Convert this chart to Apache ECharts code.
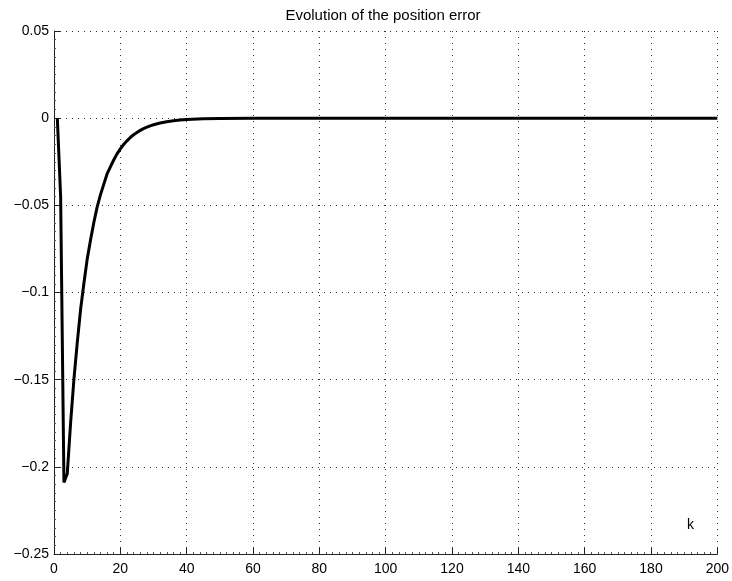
<!DOCTYPE html>
<html>
<head>
<meta charset="utf-8">
<title>Evolution of the position error</title>
<script src="https://cdn.jsdelivr.net/npm/echarts@6/dist/echarts.min.js"></script>
<style>
    html, body { margin: 0; padding: 0; background: #fff; }
    #main { width: 732px; height: 581px; }
</style>
</head>
<body>
<div id="main"></div>
<script>
    // 采样步 k 与位置误差
    const kSteps = [1, 2, 3, 4, 5, 6, 7, 8, 9, 10, 11, 12, 13, 14, 15, 16, 17, 18, 19, 20,
        21, 22, 23, 24, 25, 26, 27, 28, 29, 30, 32, 34, 36, 38, 40, 45, 50, 60, 80, 120, 160, 200];
    const errValues = [0, -0.045, -0.209, -0.204, -0.175, -0.150, -0.129, -0.110, -0.095, -0.081,
        -0.070, -0.060, -0.051, -0.044, -0.038, -0.032, -0.028, -0.024, -0.0205, -0.0176,
        -0.0151, -0.0130, -0.0111, -0.0095, -0.0082, -0.0070, -0.0060, -0.0052, -0.0044, -0.0038,
        -0.0028, -0.0021, -0.0015, -0.0011, -0.0008, -0.0004, -0.0002, -0.0001, 0, 0, 0, 0];

    const titleText = 'Evolution of the position error';
    const xName = 'k';

    const font = '"Liberation Sans", Arial, Helvetica, sans-serif';

    var myChart = echarts.init(document.getElementById('main'));

    let points = kSteps.map((k, i) => [k, errValues[i]]);

    let gridLine = {
        show: true,
        lineStyle: { color: '#333', width: 1, type: [1, 5] }
    };

    let option = {
        animation: false,
        backgroundColor: '#fff',
        title: {
            text: titleText,
            left: 378,
            top: 3,
            textAlign: 'center',
            textStyle: { fontFamily: font, fontSize: 15, fontWeight: 'normal', color: '#000' }
        },
        grid: {
            left: 54,
            right: 14,
            top: 31,
            bottom: 27
        },
        xAxis: {
            type: 'value',
            min: 0,
            max: 200,
            interval: 20,
            axisLine: { show: true, onZero: false, lineStyle: { color: '#222', width: 1 } },
            axisTick: { show: true, inside: true, length: 6, lineStyle: { color: '#222' } },
            minorTick: { show: true, splitNumber: 10, length: 2, lineStyle: { color: '#555' } },
            axisLabel: { color: '#000', fontFamily: font, fontSize: 14, margin: 8 },
            splitLine: gridLine
        },
        yAxis: {
            type: 'value',
            min: -0.25,
            max: 0.05,
            interval: 0.05,
            axisLine: { show: true, onZero: false, lineStyle: { color: '#222', width: 1 } },
            axisTick: { show: true, inside: true, length: 6, lineStyle: { color: '#222' } },
            minorTick: { show: true, splitNumber: 10, length: 2, lineStyle: { color: '#555' } },
            axisLabel: {
                color: '#000',
                fontFamily: font,
                fontSize: 14,
                margin: 5,
                formatter: function (v) {
                    return String(Math.round(v * 100) / 100).replace('-', '\u2212');
                }
            },
            splitLine: gridLine
        },
        graphic: [{
            type: 'text',
            left: 687,
            top: 518,
            style: { text: xName, fontFamily: font, fontSize: 14, fill: '#000' }
        }],
        series: [{
            type: 'line',
            data: points,
            showSymbol: false,
            smooth: false,
            lineStyle: { color: '#000', width: 3 },
            z: 3
        }]
    };
    myChart.setOption(option);
</script>
</body>
</html>
